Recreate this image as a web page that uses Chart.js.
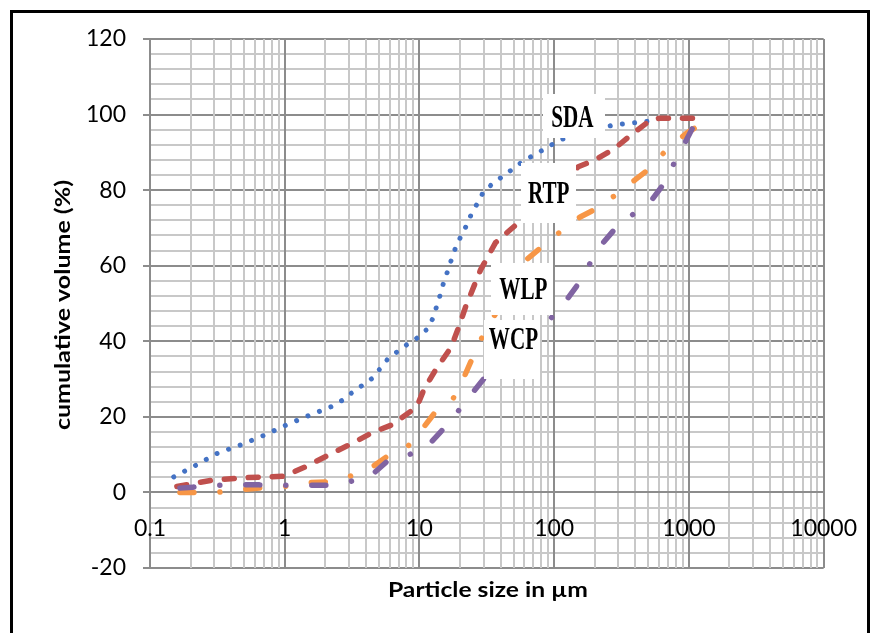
<!DOCTYPE html>
<html><head><meta charset="utf-8">
<script src="https://cdn.jsdelivr.net/npm/chart.js@4/dist/chart.umd.min.js"></script>
<style>html,body{margin:0;padding:0;background:#fff;}canvas{display:block}</style>
</head><body>
<canvas id="c" width="879" height="633"></canvas>
<script>
// ---- data ----
const seriesNames = ['SDA', 'RTP', 'WLP', 'WCP'];

const sdaSize = [0.150, 0.219, 0.318, 0.473, 0.700, 1.02, 1.52, 2.25, 2.68, 3.18, 4.50, 5.84, 8.21, 9.73, 11.4, 12.6, 13.4, 14.3, 15.1, 16.2, 17.3, 18.6, 20.3, 22.4, 24.3, 27.0, 29.9, 34.9, 41.3, 49.3, 58.4, 84.0, 100, 120, 278, 419, 513];
const sdaVol  = [4.1, 7.2, 10.4, 12.6, 15.1, 17.8, 20.4, 22.8, 24.4, 26.5, 30.3, 35.4, 39.3, 41.0, 43.2, 46.1, 49.2, 52.4, 55.5, 58.6, 61.7, 64.9, 67.8, 70.7, 73.7, 76.6, 79.6, 81.7, 83.6, 85.6, 87.6, 90.8, 92.4, 93.8, 97.3, 97.9, 98.3];

const rtpSize = [0.148, 0.287, 0.504, 0.995, 1.447, 2.14, 3.01, 4.45, 6.25, 8.79, 9.57, 10.78, 13.2, 17.1, 19.6, 22.0, 28.4, 36.7, 54.3, 151, 201, 283, 371, 522, 600, 1220];
const rtpVol  = [1.4, 3.2, 3.9, 4.3, 6.9, 10.0, 12.6, 15.8, 17.9, 21.7, 22.7, 27.2, 32.5, 38.3, 43.8, 49.1, 58.9, 66.1, 71.4, 86.2, 88.0, 91.1, 94.6, 98.6, 99.0, 99.0];

const wlpSize = [0.148, 0.208, 0.313, 0.463, 0.650, 0.978, 1.447, 2.07, 3.01, 4.37, 5.74, 8.21, 10.6, 12.8, 17.7, 21.3, 24.4, 28.9, 62.2, 80.3, 111, 156, 208, 288, 398, 513, 674, 947, 1202];
const wlpVol  = [0, 0, 0, 0.7, 1.2, 1.5, 2.6, 2.8, 4.2, 6.5, 9.5, 12.2, 17.0, 20.8, 24.7, 30.3, 35.1, 40.8, 61.6, 64.9, 69.0, 72.9, 75.2, 78.8, 82.7, 85.8, 90.5, 94.9, 97.3];

const wcpSize = [0.148, 0.208, 0.313, 0.463, 0.650, 0.978, 1.447, 2.07, 3.06, 4.45, 5.74, 8.21, 11.7, 14.6, 19.1, 24.4, 30.4, 95.7, 125, 151, 185, 231, 288, 391, 540, 662, 785, 947, 1142];
const wcpVol  = [1.0, 1.4, 1.9, 2.0, 2.0, 1.9, 1.9, 1.9, 2.9, 4.7, 8.2, 9.8, 12.6, 16.3, 21.2, 26.1, 30.3, 46.3, 51.2, 55.2, 60.7, 66.1, 70.1, 73.8, 77.8, 82.0, 87.5, 92.9, 98.6];

const xTickValues = [0.1, 1, 10, 100, 1000, 10000];
const xTickLabels = ['0.1', '1', '10', '100', '1000', '10000'];
const xMinorMultipliers = [2, 3, 4, 5, 6, 7, 8, 9];
const yMin = -20, yMax = 120, yLabelStep = 20, yMinorStep = 4;

const xTitle = 'Particle size in \u00b5m';
const yTitle = 'cumulative volume (%)';

// in-plot label annotations (data coordinates)
const noteText = ['SDA', 'RTP', 'WLP', 'WCP'];
const noteX = [141, 91, 58, 49];
const noteY = [99.5, 79.3, 53.9, 37.9];

// ---- styles ----
const noteBox = [[62, 44], [55, 60], [62, 52], [56, 59]];
const noteTextOffset = [[-2, 0], [0, -0.5], [1, 0], [1, -10]];
const MAJOR = '#8c8c8c', MINOR = '#c8c8c8';
const tickFont = {family: 'Lato', size: 23};
const titleWidth = {x: 200, y: 250};

const pts = (xs, ys) => xs.map((x, i) => ({x: x, y: ys[i]}));
const xGrid = [];
xTickValues.forEach((v, i) => {
  xGrid.push(v);
  if (i < xTickValues.length - 1) xMinorMultipliers.forEach(m => xGrid.push(+(v * m).toPrecision(6)));
});
const isDecade = v => Math.abs(Math.log10(v) - Math.round(Math.log10(v))) < 1e-6;

function fitText(c, text, cx, cy, width, rotate) {
  c.save();
  c.translate(cx, cy);
  if (rotate) c.rotate(-Math.PI / 2);
  const w = c.measureText(text).width;
  c.scale(width / w, 1);
  c.fillText(text, 0, 0);
  c.restore();
}

const framePlugin = {
  id: 'frame',
  beforeDraw(chart) {
    const c = chart.ctx;
    c.save();
    c.fillStyle = '#fff';
    c.fillRect(0, 0, chart.width, chart.height);
    c.strokeStyle = '#000';
    c.lineWidth = 3;
    c.strokeRect(11.5, 11.5, 857, 700);
    c.restore();
  },
  afterDraw(chart) {
    const c = chart.ctx;
    c.save();
    c.fillStyle = '#000';
    c.font = 'bold 21px Lato';
    c.textAlign = 'center';
    c.textBaseline = 'middle';
    fitText(c, xTitle, 488, 590, titleWidth.x, false);
    fitText(c, yTitle, 63, 305, titleWidth.y, true);
    c.restore();
  }
};

const notePlugin = {
  id: 'notes',
  afterDatasetsDraw(chart) {
    const c = chart.ctx, xs = chart.scales.x, ys = chart.scales.y;
    c.save();
    noteText.forEach((t, i) => {
      const px = xs.getPixelForValue(noteX[i]);
      const py = ys.getPixelForValue(noteY[i]);
      const [w, h] = noteBox[i];
      c.fillStyle = '#fff';
      c.fillRect(Math.round(px - w / 2), Math.round(py - h / 2), w, h);
      c.save();
      c.translate(px + noteTextOffset[i][0], py + noteTextOffset[i][1]);
      c.scale(0.66, 1);
      c.fillStyle = '#000';
      c.font = 'bold 32px "Liberation Serif"';
      c.textAlign = 'center';
      c.textBaseline = 'middle';
      c.fillText(t, 0, 2);
      c.restore();
    });
    c.restore();
  }
};

const lineCommon = {pointRadius: 0, pointHoverRadius: 0, tension: 0, fill: false,
  borderCapStyle: 'round', borderJoinStyle: 'round'};

new Chart(document.getElementById('c'), {
  type: 'line',
  data: {
    datasets: [
      Object.assign({label: seriesNames[0], data: pts(sdaSize, sdaVol), borderColor: '#4472C4',
        borderWidth: 5, borderDash: [0.01, 12.3], order: 4}, lineCommon),
      Object.assign({label: seriesNames[1], data: pts(rtpSize, rtpVol), borderColor: '#C0504D',
        borderWidth: 5.5, borderDash: [10, 14], borderDashOffset: -4, order: 3}, lineCommon),
      Object.assign({label: seriesNames[2], data: pts(wlpSize, wlpVol), borderColor: '#F79646',
        borderWidth: 5.5, borderDash: [14, 26, 0.01, 26], borderDashOffset: -7, order: 2}, lineCommon),
      Object.assign({label: seriesNames[3], data: pts(wcpSize, wcpVol), borderColor: '#8064A2',
        borderWidth: 5.5, borderDash: [14, 26, 0.01, 26], borderDashOffset: -7, order: 1}, lineCommon)
    ]
  },
  options: {
    responsive: false,
    animation: false,
    devicePixelRatio: 1,
    events: [],
    layout: {padding: {left: 0, top: 39, right: 52, bottom: 65}},
    plugins: {legend: {display: false}, tooltip: {enabled: false}},
    scales: {
      y: {
        min: yMin, max: yMax,
        afterFit: s => { s.width = 150; },
        ticks: {
          stepSize: yMinorStep, autoSkip: false, padding: 17,
          font: tickFont, color: '#000',
          callback: v => (Math.round(v) % yLabelStep === 0) ? String(Math.round(v)) : ''
        },
        grid: {
          color: c => (c.tick && Math.round(c.tick.value) % yLabelStep === 0) ? MAJOR : MINOR,
          tickColor: c => (c.tick && Math.round(c.tick.value) % yLabelStep === 0) ? MAJOR : 'rgba(0,0,0,0)',
          lineWidth: 2,
          tickLength: 7
        },
        border: {display: false}
      },
      x: {
        type: 'logarithmic',
        min: xTickValues[0],
        max: xTickValues[xTickValues.length - 1],
        position: {y: 0},
        afterBuildTicks: s => { s.ticks = xGrid.map(v => ({value: v, major: isDecade(v)})); },
        ticks: {
          autoSkip: false, maxRotation: 0, minRotation: 0, padding: 22,
          font: tickFont, color: '#000',
          callback: v => {
            const k = xTickValues.findIndex(t => Math.abs(t - v) / t < 1e-6);
            return k >= 0 ? xTickLabels[k] : '';
          }
        },
        grid: {
          drawTicks: false,
          color: c => (c.tick && isDecade(c.tick.value)) ? MAJOR : MINOR,
          lineWidth: 2
        },
        border: {color: MAJOR, width: 2}
      }
    }
  },
  plugins: [framePlugin, notePlugin]
});
</script>
</body></html>
